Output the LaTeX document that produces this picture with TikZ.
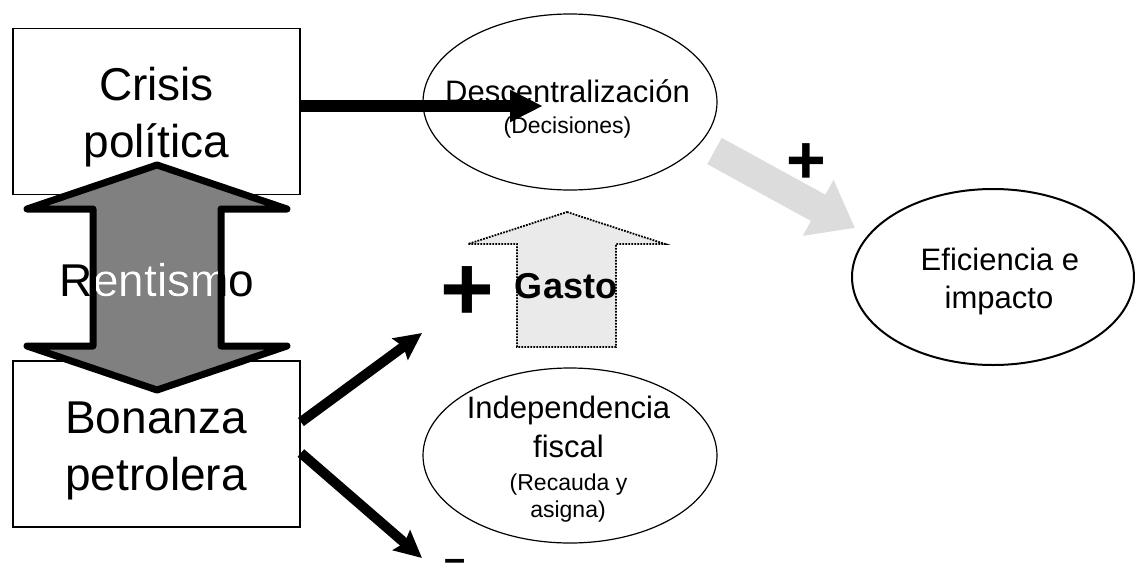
\documentclass[tikz,border=0pt]{standalone}
\usepackage{fontspec}
\setmainfont{Liberation Sans}
\usetikzlibrary{arrows.meta,shapes.geometric}
\definecolor{shaftgray}{HTML}{808080}
\definecolor{lightarrow}{HTML}{DCDCDC}
\definecolor{gastofill}{HTML}{EAEAEA}
\newcommand{\fs}[2]{\fontsize{#1}{#2}\selectfont}

\begin{document}
\begin{tikzpicture}[x=1pt,y=-1pt,
  box/.style={draw, line width=1.8pt, minimum width=287pt, minimum height=166pt, inner sep=0pt},
  oval/.style={ellipse, draw, line width=1.2pt, inner sep=0pt},
  ln/.style={inner sep=0pt, anchor=base},
  big/.style={font=\fs{46}{57}},
  mid/.style={font=\fs{31}{38}},
  small/.style={font=\fs{23}{27}},
  blackarrow/.style={line width=12pt, -{Triangle[length=33pt,width=30pt]}},
  thinblack/.style={line width=10pt, -{Stealth[length=27pt,width=26pt,inset=4pt]}},
]
\useasboundingbox (0,0) rectangle (1135,565);

% boxes
\node[box] (crisis) at (156.5,111.5) {};
\node[box] (bonanza) at (156.5,444) {};

% ellipses
\node[oval, minimum width=294pt, minimum height=176pt] (desc) at (570,102) {};
\node[oval, minimum width=294pt, minimum height=175pt] (indep) at (570,455.5) {};
\node[oval, line width=2pt, minimum width=282pt, minimum height=176pt] (efic) at (993,277) {};

% box texts
\node[ln, big] (crisis-a) at (156.5,100) {Crisis};
\node[ln, big] (crisis-b) at (156.5,157) {política};
\node[ln, big] (bon-a) at (156,433) {Bonanza};
\node[ln, big] (bon-b) at (156,490) {petrolera};

% ellipse texts
\node[ln, mid] (desc-a) at (567.5,102) {Descentralización};
\node[ln, small] (desc-b) at (567.5,133) {(Decisiones)};
\node[ln, mid] (efic-a) at (1000,270) {Eficiencia e};
\node[ln, mid] (efic-b) at (999,308) {impacto};
\node[ln, mid] (indep-a) at (568.5,418) {Independencia};
\node[ln, mid] (indep-b) at (568.5,457) {fiscal};
\node[ln, small] (indep-c) at (568.5,490) {(Recauda y};
\node[ln, small] (indep-d) at (568,517) {asigna)};

% double block arrow between the two boxes
\draw[line width=7pt, line join=round, fill=shaftgray]
  (157,165) -- (287,209) -- (221,209) -- (221,346) -- (287,346) -- (157,390)
  -- (27,346) -- (93,346) -- (93,209) -- (27,209) -- cycle;
\node[ln, big] (rent) at (157,296) {Rentismo};
\begin{scope}
  \clip (96.5,212.5) rectangle (217.5,342.5);
  \node[ln, big, text=white] (rent-w) at (157,296) {Rentismo};
\end{scope}

% spending arrow
\draw[dash pattern=on 1.8pt off 1.2pt, line width=1.8pt, fill=gastofill]
  (567,212) -- (665,244) -- (616,244) -- (616,347) -- (517,347) -- (517,244)
  -- (468,244) -- cycle;
\node[ln, font=\fs{36}{43}\bfseries] (gasto) at (566,298) {Gasto};

% signs
\node[inner sep=0pt, font=\fs{92}{100}\bfseries] (plus-a) at (467.5,293.5) {+};
\node[inner sep=0pt, font=\fs{68}{76}\bfseries] (plus-b) at (806.5,163.5) {+};
\node[ln, font=\fs{38}{44}\bfseries] (minus) at (455.5,571.5) {–};

% connectors
\coordinate (dtip) at (543,106);
\coordinate (utip) at (422,333);
\coordinate (ltip) at (422,558);
\coordinate (gstart) at (714.5,151);
\coordinate (gtip) at (855,228);
\draw[blackarrow] ([yshift=5.5pt]crisis.east) -- (dtip);
\draw[thinblack] ([yshift=22pt]bonanza.east) -- (utip);
\draw[thinblack] ([yshift=-9pt]bonanza.east) -- (ltip);
\draw[lightarrow, line width=30pt, -{Triangle[length=42pt,width=61pt]}] (gstart) -- (gtip);
\end{tikzpicture}
\end{document}
